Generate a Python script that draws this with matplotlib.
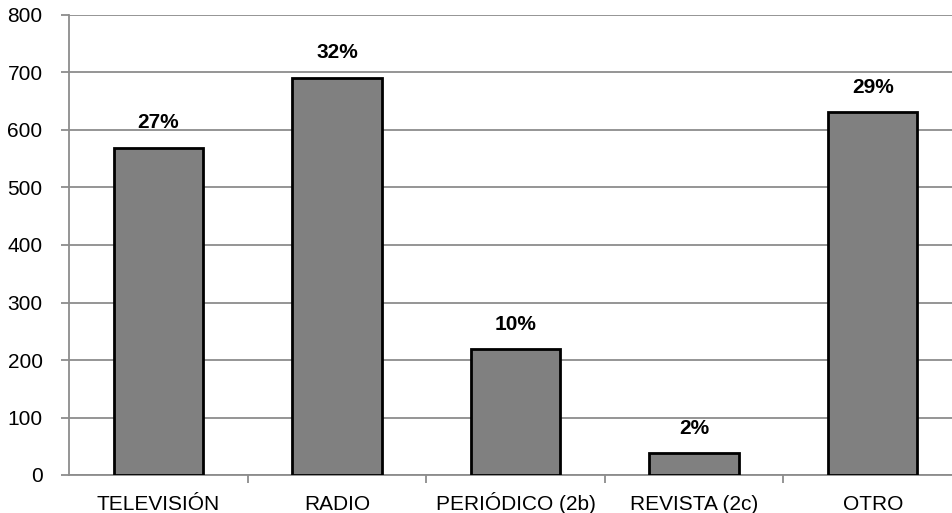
import matplotlib
matplotlib.use("Agg")
import matplotlib.pyplot as plt

categories = ["TELEVISIÓN", "RADIO", "PERIÓDICO (2b)", "REVISTA (2c)", "OTRO"]
values = [569, 691, 219, 38, 631]
pct_labels = ["27%", "32%", "10%", "2%", "29%"]

plt.rcParams["font.family"] = ["Liberation Sans", "DejaVu Sans"]

fig = plt.figure(figsize=(9.52, 5.13), dpi=100)
# plot area runs slightly past the right edge of the figure
ax = fig.add_axes([69 / 952, 38 / 513, 893 / 952, 460 / 513])

x = range(len(categories))
ax.bar(x, values, width=0.5, color="#808080", edgecolor="black", linewidth=2, zorder=3)
for xi, v, lab in zip(x, values, pct_labels):
    ax.text(xi, v + 34, lab, ha="center", va="baseline", fontsize=15, fontweight="bold")

ax.set_xlim(-0.5, len(categories) - 0.5)
ax.set_ylim(0, 800)
ax.set_yticks(range(0, 801, 100))
ax.yaxis.grid(True, color="#8c8c8c", linewidth=1.3, zorder=0)
ax.set_axisbelow(True)

ax.set_xticks(x)
ax.set_xticklabels(categories, fontsize=15, va="baseline")
ax.tick_params(axis="x", length=0, pad=25)
ax.set_xticks([i + 0.5 for i in range(len(categories) - 1)], minor=True)
ax.tick_params(axis="x", which="minor", length=6, color="#8c8c8c", width=1.3, direction="out")
ax.tick_params(axis="y", labelsize=15, length=6, color="#8c8c8c", width=1.3, pad=13)

for side in ["top", "right"]:
    ax.spines[side].set_visible(False)
for side in ["left", "bottom"]:
    ax.spines[side].set_color("#8c8c8c")
    ax.spines[side].set_linewidth(1.3)

fig.savefig("out.png", dpi=100)
